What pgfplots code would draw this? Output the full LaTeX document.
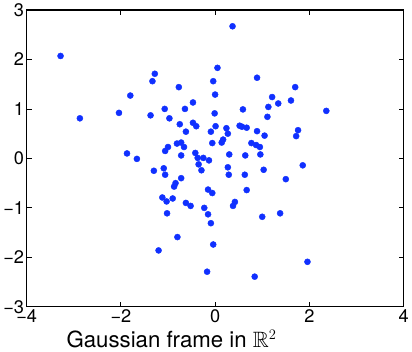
\documentclass[border=0pt]{standalone}
\usepackage{amssymb}
\usepackage{pgfplots}
\pgfplotsset{compat=1.18}
\usepackage{fontspec}
\setmainfont{TeX Gyre Heros}
\begin{document}
\begin{tikzpicture}
\begin{axis}[
  scale only axis,
  width=372bp, height=293bp,
  xmin=-4, xmax=4, ymin=-3, ymax=3,
  xtick={-4,-2,0,2,4}, ytick={-3,-2,-1,0,1,2,3},
  xticklabels={−4,−2,0,2,4},
  yticklabels={−3,−2,−1,0,1,2,3},
  tick align=inside,
  major tick length=5bp,
  axis line style={line width=1.2bp},
  tick style={line width=0.8bp, black},
  ticklabel style={font=\fontsize{18}{18}\selectfont},
  xticklabel style={yshift=1bp},
  yticklabel style={xshift=1bp},
  xlabel={Gaussian frame in $\mathbb{R}^2$},
  xlabel style={font=\fontsize{22}{22}\selectfont, yshift=-1bp, xshift=-43bp},
]
\addplot[only marks, mark=*, mark size=3bp, color={rgb,255:red,16;green,48;blue,255}, mark options={draw=none}] coordinates {
(-3.28,2.07) (-2.87,0.81) (-2.04,0.92) (-1.80,1.27) (-1.87,0.10)
(-1.66,-0.01) (-1.33,1.56) (-1.28,1.71) (-1.37,0.87) (-1.30,-0.25)
(-1.07,1.00) (-0.97,0.81) (-0.77,1.44) (-0.64,1.00) (-0.47,1.13)
(-0.75,0.69) (-0.47,0.72) (-0.40,0.65) (-0.62,0.54) (-0.81,0.30)
(-0.72,0.32) (-1.00,0.23) (-1.06,0.15) (-0.66,0.23) (-0.72,0.06)
(-0.42,0.11) (-0.37,0.01) (-0.25,0.01) (-0.35,-0.12) (-0.29,-0.24)
(-0.13,-0.04) (-1.09,-0.20) (-1.06,-0.33) (-0.72,-0.40) (-0.84,-0.50)
(-0.87,-0.57) (-1.12,-0.79) (-1.03,-0.87) (-0.90,-0.81) (-0.62,-0.90)
(-0.52,-0.96) (-1.02,-1.11) (-0.80,-1.59) (-1.20,-1.86) (-0.23,-1.00)
(-0.15,-1.13) (-0.09,-1.31) (-0.15,-0.63) (-0.06,-0.70) (-0.04,-1.74)
(-0.17,-2.29) (0.05,1.83) (-0.04,1.56) (0.00,1.29) (-0.01,0.91)
(0.01,0.65) (-0.09,0.54) (-0.06,0.31) (0.37,2.67) (0.24,0.61)
(0.27,0.50) (0.17,0.38) (0.14,0.32) (0.30,0.08) (0.27,-0.18)
(0.29,-0.33) (0.59,0.99) (0.52,0.66) (0.57,0.64) (0.67,0.62)
(0.89,1.63) (0.89,0.55) (0.77,0.31) (0.87,0.27) (0.95,0.23)
(0.64,0.06) (0.96,0.08) (0.63,-0.33) (0.67,-0.64) (0.42,-0.88)
(0.38,-0.96) (1.00,-1.18) (0.84,-2.39) (1.05,0.46) (1.03,-0.23)
(1.11,0.84) (1.13,1.04) (1.21,1.24) (1.34,1.11) (1.61,1.17)
(1.70,1.44) (1.76,0.57) (1.72,0.45) (1.86,-0.14) (1.50,-0.42)
(1.38,-1.11) (1.96,-2.09) (2.36,0.96)
};
\end{axis}
\end{tikzpicture}
\end{document}
